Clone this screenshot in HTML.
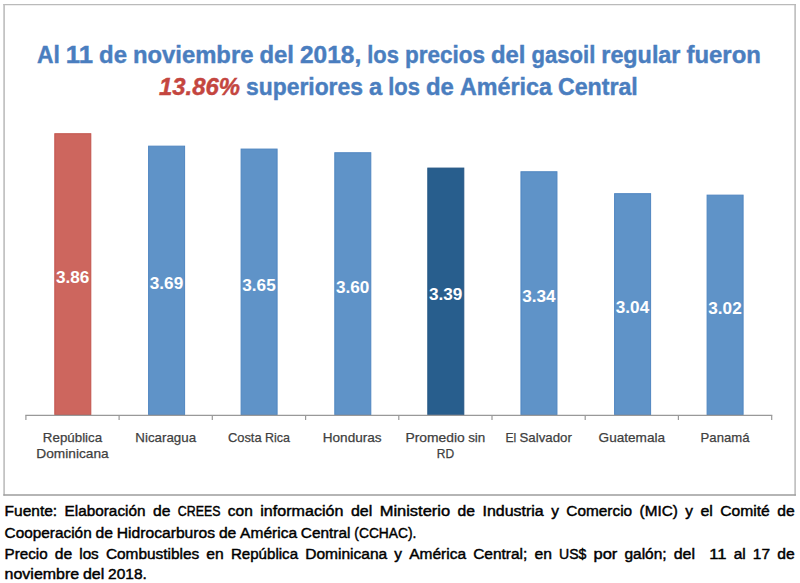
<!DOCTYPE html>
<html lang="es">
<head>
<meta charset="utf-8">
<title>Precios del gasoil regular</title>
<style>
html,body{margin:0;padding:0;background:#fff;}
body{width:800px;height:583px;position:relative;overflow:hidden;font-family:"Liberation Sans",sans-serif;}
svg{position:absolute;left:0;top:0;}
svg text{font-family:"Liberation Sans",sans-serif;}
.tt{font-weight:bold;font-size:24.8px;fill:#4a7ebf;stroke:#4a7ebf;stroke-width:0.45px;}
.tr{font-weight:bold;font-style:italic;font-size:24.8px;fill:#c4463f;stroke:#c4463f;stroke-width:0.45px;}
.r{fill:#cd665e;stroke:#c2534b;stroke-width:1;}
.b{fill:#5f93c8;stroke:#4f85c0;stroke-width:1;}
.d{fill:#285e8d;stroke:#245583;stroke-width:1;}
.v{font-weight:bold;font-size:17px;fill:#fff;}
.c{font-size:13.6px;fill:#404040;stroke:#404040;stroke-width:0.25px;}
.f{font-size:15.3px;fill:#000;stroke:#000;stroke-width:0.45px;}
</style>
</head>
<body>
<svg width="800" height="583" viewBox="0 0 800 583">
<!-- chart frame -->
<g fill="none">
<line x1="3.3" y1="4.7" x2="795.9" y2="4.7" stroke="#bababa" stroke-width="1.2"/>
<line x1="4.1" y1="4.1" x2="4.1" y2="495.6" stroke="#bdbdbd" stroke-width="1.6"/>
<line x1="795.1" y1="4.1" x2="795.1" y2="495.6" stroke="#b8b8b8" stroke-width="1.5"/>
<line x1="3.3" y1="495.0" x2="795.9" y2="495.0" stroke="#9c9c9c" stroke-width="1.5"/>
</g>
<g>
<!-- title -->
<text class="tt" y="63.2"><tspan x="37.00" textLength="22.83" lengthAdjust="spacingAndGlyphs">Al</tspan> <tspan x="65.88" textLength="27.17" lengthAdjust="spacingAndGlyphs">11</tspan> <tspan x="99.09" textLength="27.88" lengthAdjust="spacingAndGlyphs">de</tspan> <tspan x="133.02" textLength="120.38" lengthAdjust="spacingAndGlyphs">noviembre</tspan> <tspan x="259.42" textLength="34.47" lengthAdjust="spacingAndGlyphs">del</tspan> <tspan x="299.94" textLength="61.25" lengthAdjust="spacingAndGlyphs">2018,</tspan> <tspan x="367.23" textLength="31.69" lengthAdjust="spacingAndGlyphs">los</tspan> <tspan x="404.97" textLength="80.00" lengthAdjust="spacingAndGlyphs">precios</tspan> <tspan x="491.02" textLength="34.45" lengthAdjust="spacingAndGlyphs">del</tspan> <tspan x="531.52" textLength="63.75" lengthAdjust="spacingAndGlyphs">gasoil</tspan> <tspan x="601.31" textLength="79.14" lengthAdjust="spacingAndGlyphs">regular</tspan> <tspan x="686.50" textLength="74.34" lengthAdjust="spacingAndGlyphs">fueron</tspan></text>
<text class="tt" y="94.5"><tspan class="tr" x="159.00" textLength="81.03" lengthAdjust="spacingAndGlyphs">13.86%</tspan> <tspan x="246.06" textLength="116.88" lengthAdjust="spacingAndGlyphs">superiores</tspan> <tspan x="368.98" textLength="13.25" lengthAdjust="spacingAndGlyphs">a</tspan> <tspan x="388.27" textLength="31.70" lengthAdjust="spacingAndGlyphs">los</tspan> <tspan x="426.00" textLength="27.89" lengthAdjust="spacingAndGlyphs">de</tspan> <tspan x="459.94" textLength="91.94" lengthAdjust="spacingAndGlyphs">América</tspan> <tspan x="557.91" textLength="79.86" lengthAdjust="spacingAndGlyphs">Central</tspan></text>
</g>
<!-- bars -->
<rect class="r" x="54.80" y="133.73" width="36.0" height="280.87"/>
<rect class="b" x="148.60" y="146.16" width="36.0" height="268.44"/>
<rect class="b" x="241.10" y="149.08" width="36.0" height="265.52"/>
<rect class="b" x="334.80" y="152.74" width="36.0" height="261.86"/>
<rect class="d" x="427.80" y="168.09" width="36.0" height="246.51"/>
<rect class="b" x="520.95" y="171.75" width="36.0" height="242.85"/>
<rect class="b" x="614.60" y="193.68" width="36.0" height="220.92"/>
<rect class="b" x="707.10" y="195.14" width="36.0" height="219.46"/>
<!-- value labels -->
<text class="v" y="283.02"><tspan x="56.00" textLength="33.41" lengthAdjust="spacingAndGlyphs">3.86</tspan></text>
<text class="v" y="289.23"><tspan x="149.80" textLength="33.41" lengthAdjust="spacingAndGlyphs">3.69</tspan></text>
<text class="v" y="290.69"><tspan x="242.30" textLength="33.41" lengthAdjust="spacingAndGlyphs">3.65</tspan></text>
<text class="v" y="292.52"><tspan x="336.00" textLength="33.41" lengthAdjust="spacingAndGlyphs">3.60</tspan></text>
<text class="v" y="300.20"><tspan x="429.00" textLength="33.41" lengthAdjust="spacingAndGlyphs">3.39</tspan></text>
<text class="v" y="302.02"><tspan x="522.15" textLength="33.41" lengthAdjust="spacingAndGlyphs">3.34</tspan></text>
<text class="v" y="312.99"><tspan x="615.80" textLength="33.41" lengthAdjust="spacingAndGlyphs">3.04</tspan></text>
<text class="v" y="313.72"><tspan x="708.30" textLength="33.41" lengthAdjust="spacingAndGlyphs">3.02</tspan></text>
<!-- axis -->
<g stroke="#999999" stroke-width="1.2" fill="none">
<line x1="25.3" y1="415.4" x2="772.3" y2="415.4"/>
<line x1="25.9" y1="415.4" x2="25.9" y2="420"/>
<line x1="119.1" y1="415.4" x2="119.1" y2="420"/>
<line x1="212.3" y1="415.4" x2="212.3" y2="420"/>
<line x1="305.6" y1="415.4" x2="305.6" y2="420"/>
<line x1="398.8" y1="415.4" x2="398.8" y2="420"/>
<line x1="492.0" y1="415.4" x2="492.0" y2="420"/>
<line x1="585.2" y1="415.4" x2="585.2" y2="420"/>
<line x1="678.4" y1="415.4" x2="678.4" y2="420"/>
<line x1="771.7" y1="415.4" x2="771.7" y2="420"/>
</g>
<!-- category labels -->
<text class="c" y="442.0"><tspan x="42.87" textLength="59.28" lengthAdjust="spacingAndGlyphs">República</tspan></text>

<text class="c" y="457.5"><tspan x="36.33" textLength="72.36" lengthAdjust="spacingAndGlyphs">Dominicana</tspan></text>

<text class="c" y="442.0"><tspan x="135.35" textLength="60.77" lengthAdjust="spacingAndGlyphs">Nicaragua</tspan></text>

<text class="c" y="442.0"><tspan x="227.94" textLength="33.64" lengthAdjust="spacingAndGlyphs">Costa</tspan> <tspan x="264.96" textLength="25.00" lengthAdjust="spacingAndGlyphs">Rica</tspan></text>

<text class="c" y="442.0"><tspan x="322.73" textLength="58.88" lengthAdjust="spacingAndGlyphs">Honduras</tspan></text>

<text class="c" y="442.0"><tspan x="405.43" textLength="59.33" lengthAdjust="spacingAndGlyphs">Promedio</tspan> <tspan x="468.13" textLength="17.22" lengthAdjust="spacingAndGlyphs">sin</tspan></text>

<text class="c" y="457.5"><tspan x="436.70" textLength="17.38" lengthAdjust="spacingAndGlyphs">RD</tspan></text>

<text class="c" y="442.0"><tspan x="505.38" textLength="10.78" lengthAdjust="spacingAndGlyphs">El</tspan> <tspan x="519.54" textLength="52.30" lengthAdjust="spacingAndGlyphs">Salvador</tspan></text>

<text class="c" y="442.0"><tspan x="598.57" textLength="66.52" lengthAdjust="spacingAndGlyphs">Guatemala</tspan></text>

<text class="c" y="442.0"><tspan x="700.62" textLength="48.86" lengthAdjust="spacingAndGlyphs">Panamá</tspan></text>

<!-- footer -->
<text class="f" y="516.2"><tspan x="4.60" textLength="52.50" lengthAdjust="spacingAndGlyphs">Fuente:</tspan> <tspan x="64.55" textLength="80.97" lengthAdjust="spacingAndGlyphs">Elaboración</tspan> <tspan x="152.97" textLength="17.41" lengthAdjust="spacingAndGlyphs">de</tspan> <tspan x="177.83" textLength="42.56" lengthAdjust="spacingAndGlyphs">CREES</tspan> <tspan x="227.85" textLength="24.95" lengthAdjust="spacingAndGlyphs">con</tspan> <tspan x="260.26" textLength="83.19" lengthAdjust="spacingAndGlyphs">información</tspan> <tspan x="350.90" textLength="21.31" lengthAdjust="spacingAndGlyphs">del</tspan> <tspan x="379.66" textLength="70.50" lengthAdjust="spacingAndGlyphs">Ministerio</tspan> <tspan x="457.62" textLength="17.41" lengthAdjust="spacingAndGlyphs">de</tspan> <tspan x="482.48" textLength="61.22" lengthAdjust="spacingAndGlyphs">Industria</tspan> <tspan x="551.15" textLength="7.72" lengthAdjust="spacingAndGlyphs">y</tspan> <tspan x="566.32" textLength="65.81" lengthAdjust="spacingAndGlyphs">Comercio</tspan> <tspan x="639.58" textLength="38.20" lengthAdjust="spacingAndGlyphs">(MIC)</tspan> <tspan x="685.26" textLength="7.70" lengthAdjust="spacingAndGlyphs">y</tspan> <tspan x="700.41" textLength="12.38" lengthAdjust="spacingAndGlyphs">el</tspan> <tspan x="720.24" textLength="49.50" lengthAdjust="spacingAndGlyphs">Comité</tspan> <tspan x="777.19" textLength="17.41" lengthAdjust="spacingAndGlyphs">de</tspan></text>
<text class="f" y="537.6"><tspan x="4.60" textLength="87.09" lengthAdjust="spacingAndGlyphs">Cooperación</tspan> <tspan x="95.52" textLength="17.41" lengthAdjust="spacingAndGlyphs">de</tspan> <tspan x="116.76" textLength="98.31" lengthAdjust="spacingAndGlyphs">Hidrocarburos</tspan> <tspan x="218.90" textLength="17.41" lengthAdjust="spacingAndGlyphs">de</tspan> <tspan x="240.13" textLength="56.91" lengthAdjust="spacingAndGlyphs">América</tspan> <tspan x="300.87" textLength="49.62" lengthAdjust="spacingAndGlyphs">Central</tspan> <tspan x="354.32" textLength="62.11" lengthAdjust="spacingAndGlyphs">(CCHAC).</tspan></text>
<text class="f" y="558.8"><tspan x="4.60" textLength="43.00" lengthAdjust="spacingAndGlyphs">Precio</tspan> <tspan x="54.73" textLength="17.41" lengthAdjust="spacingAndGlyphs">de</tspan> <tspan x="79.24" textLength="19.53" lengthAdjust="spacingAndGlyphs">los</tspan> <tspan x="105.90" textLength="93.36" lengthAdjust="spacingAndGlyphs">Combustibles</tspan> <tspan x="206.37" textLength="17.41" lengthAdjust="spacingAndGlyphs">en</tspan> <tspan x="230.88" textLength="67.20" lengthAdjust="spacingAndGlyphs">República</tspan> <tspan x="305.19" textLength="82.02" lengthAdjust="spacingAndGlyphs">Dominicana</tspan> <tspan x="394.33" textLength="7.70" lengthAdjust="spacingAndGlyphs">y</tspan> <tspan x="409.16" textLength="56.91" lengthAdjust="spacingAndGlyphs">América</tspan> <tspan x="473.18" textLength="54.19" lengthAdjust="spacingAndGlyphs">Central;</tspan> <tspan x="534.48" textLength="17.41" lengthAdjust="spacingAndGlyphs">en</tspan> <tspan x="559.01" textLength="27.34" lengthAdjust="spacingAndGlyphs">US$</tspan> <tspan x="593.48" textLength="23.83" lengthAdjust="spacingAndGlyphs">por</tspan> <tspan x="624.43" textLength="42.19" lengthAdjust="spacingAndGlyphs">galón;</tspan> <tspan x="673.73" textLength="21.31" lengthAdjust="spacingAndGlyphs">del</tspan> <tspan x="709.29" textLength="17.25" lengthAdjust="spacingAndGlyphs">11</tspan> <tspan x="733.65" textLength="12.06" lengthAdjust="spacingAndGlyphs">al</tspan> <tspan x="752.83" textLength="17.23" lengthAdjust="spacingAndGlyphs">17</tspan> <tspan x="777.19" textLength="17.41" lengthAdjust="spacingAndGlyphs">de</tspan></text>
<text class="f" y="578.5"><tspan x="4.60" textLength="74.55" lengthAdjust="spacingAndGlyphs">noviembre</tspan> <tspan x="82.97" textLength="21.30" lengthAdjust="spacingAndGlyphs">del</tspan> <tspan x="108.10" textLength="38.78" lengthAdjust="spacingAndGlyphs">2018.</tspan></text>
</svg>
</body>
</html>
